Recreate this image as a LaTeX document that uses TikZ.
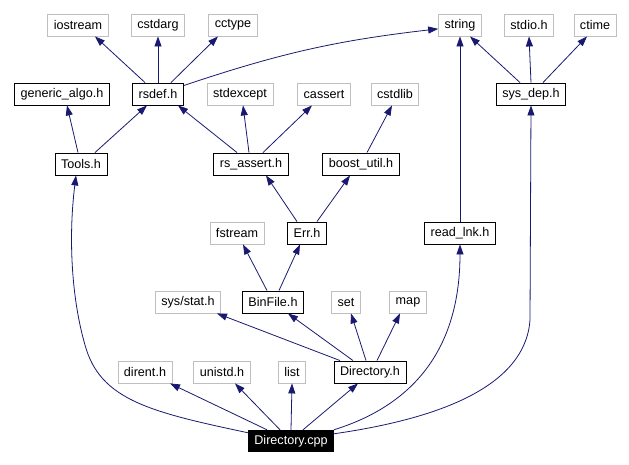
\documentclass[tikz,border=0pt]{standalone}
\usepackage{fontspec}
\setmainfont{Liberation Sans}
\usetikzlibrary{arrows.meta}

\definecolor{edgeblue}{HTML}{191970}
\definecolor{sysgray}{HTML}{BFBFBF}

\begin{document}
\begin{tikzpicture}[x=1pt, y=-1pt,
    dep/.style={-{Triangle[length=10pt,width=7pt]}, draw=edgeblue, line width=0.8pt},
    sysinc/.style={rectangle, draw=sysgray, line width=0.9pt, inner xsep=6pt,
      minimum height=22pt, font=\fontsize{12.6}{14}\selectfont},
    header/.style={rectangle, draw=black, line width=0.9pt, inner xsep=6pt,
      minimum height=22pt, font=\fontsize{12.6}{14}\selectfont},
    source/.style={rectangle, fill=black, text=white, inner xsep=6pt,
      minimum height=22pt, font=\fontsize{12.6}{14}\selectfont}
    ]
\useasboundingbox (0,0) rectangle (629,465);

% system headers, top row
\node[sysinc] (iostream) at (78,25) {iostream};
\node[sysinc] (cstdarg) at (158,25) {cstdarg};
\node[sysinc] (cctype) at (233,25) {cctype};
\node[sysinc] (string) at (460,25) {string};
\node[sysinc] (stdio) at (529,25) {stdio.h};
\node[sysinc] (ctime) at (595,25) {ctime};

\node[header] (galgo) at (62,94) {generic\_algo.h};
\node[header] (rsdef) at (158,94) {rsdef.h};
\node[sysinc] (stdexcept) at (240,94) {stdexcept};
\node[sysinc] (cassert) at (324,94) {cassert};
\node[sysinc] (cstdlib) at (395,94) {cstdlib};
\node[header] (sysdep) at (531,94) {sys\_dep.h};

\node[header] (tools) at (81,164) {Tools.h};
\node[header] (rsassert) at (251,164) {rs\_assert.h};
\node[header] (boost) at (361,164) {boost\_util.h};

\node[sysinc] (fstream) at (237,233) {fstream};
\node[header] (err) at (307,233) {Err.h};
\node[header] (readlnk) at (460,233) {read\_lnk.h};

\node[sysinc] (sysstat) at (188,302) {sys/stat.h};
\node[header] (binfile) at (273,302) {BinFile.h};
\node[sysinc] (set) at (346,302) {set};
\node[sysinc] (map) at (408,302) {map};

\node[sysinc] (dirent) at (145,372) {dirent.h};
\node[sysinc] (unistd) at (222,372) {unistd.h};
\node[sysinc] (list) at (292,372) {list};
\node[header] (dirh) at (370,372) {Directory.h};

\node[source] (cpp) at (291,441) {Directory.cpp};

% rsdef.h and sys_dep.h
\draw[dep] ([xshift=-13pt]rsdef.north) -- ([xshift=17pt]iostream.south);
\draw[dep] (rsdef.north) -- (cstdarg.south);
\draw[dep] ([xshift=13pt]rsdef.north) -- ([xshift=-15pt]cctype.south);
\draw[dep] ([yshift=-3pt]rsdef.north east) to[bend left=6] (string.190);
\draw[dep] ([xshift=-11pt]sysdep.north) -- ([xshift=10pt]string.south);
\draw[dep] (sysdep.north) -- (stdio.south);
\draw[dep] ([xshift=12pt]sysdep.north) -- ([xshift=-8pt]ctime.south);

% third row
\draw[dep] ([xshift=-3pt]tools.north) -- ([xshift=5pt]galgo.south);
\draw[dep] ([xshift=14pt]tools.north) -- ([xshift=-11pt]rsdef.south);
\draw[dep] ([xshift=-14pt]rsassert.north) -- ([xshift=20pt]rsdef.south);
\draw[dep] ([xshift=-2pt]rsassert.north) -- ([xshift=3pt]stdexcept.south);
\draw[dep] ([xshift=12pt]rsassert.north) -- ([xshift=-12pt]cassert.south);
\draw[dep] ([xshift=6pt]boost.north) -- ([xshift=-3pt]cstdlib.south);

\draw[dep] ([xshift=-10pt]err.north) -- ([xshift=15pt]rsassert.south);
\draw[dep] ([xshift=10pt]err.north) -- ([xshift=-11pt]boost.south);
\draw[dep] (readlnk.north) -- (string.south);

\draw[dep] ([xshift=-6pt]binfile.north) -- ([xshift=6pt]fstream.south);
\draw[dep] ([xshift=6pt]binfile.north) -- ([xshift=-7pt]err.south);

% Directory.h
\draw[dep] ([xshift=-30pt]dirh.north) -- ([xshift=29pt]sysstat.south);
\draw[dep] ([xshift=-17pt]dirh.north) -- ([xshift=15pt]binfile.south);
\draw[dep] ([xshift=-4pt]dirh.north) -- ([xshift=5pt]set.south);
\draw[dep] ([xshift=7pt]dirh.north) -- ([xshift=-8pt]map.south);

% Directory.cpp
\draw[dep] ([xshift=-24pt]cpp.north) -- ([xshift=25pt]dirent.south);
\draw[dep] ([xshift=-11pt]cpp.north) -- ([xshift=13pt]unistd.south);
\draw[dep] (cpp.north) -- (list.south);
\draw[dep] ([xshift=12pt]cpp.north) -- ([xshift=-12pt]dirh.south);
\draw[dep] ([yshift=-3pt]cpp.north west) .. controls (150,412) and (100,400) .. (85,345)
  .. controls (72,300) and (68,240) .. ([xshift=-5pt]tools.south);
\draw[dep] (cpp.north east) .. controls (430,400) and (460,330) .. (readlnk.south);
\draw[dep] ([yshift=-4pt]cpp.north east) .. controls (430,420) and (525,390) .. (530,320)
  -- (sysdep.south);
\end{tikzpicture}
\end{document}
